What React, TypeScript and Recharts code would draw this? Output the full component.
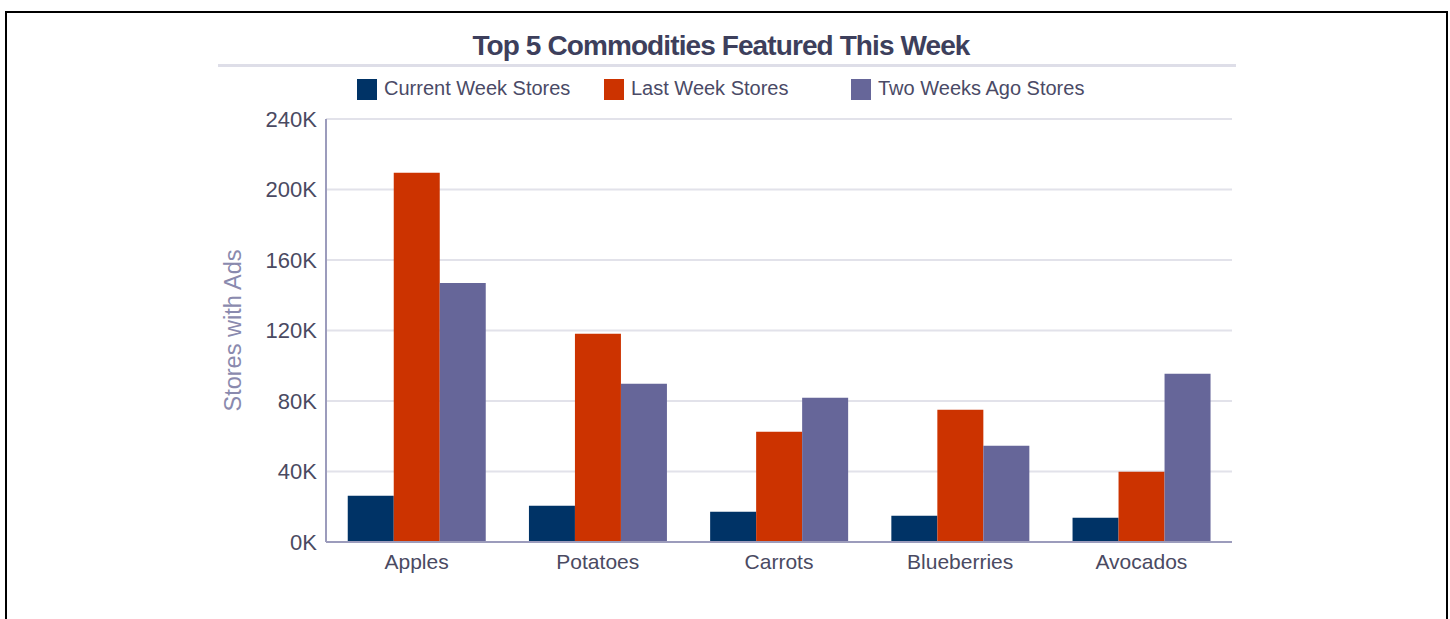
import { BarChart, Bar, XAxis, YAxis, CartesianGrid, Legend, Label } from 'recharts'

// data
const commodities = ['Apples', 'Potatoes', 'Carrots', 'Blueberries', 'Avocados']
const currentWeek = [26300, 20600, 17200, 14900, 13800]
const lastWeek = [209500, 118200, 62600, 75100, 39900]
const twoWeeksAgo = [147000, 89800, 81900, 54600, 95500]
const yTicks = [0, 40000, 80000, 120000, 160000, 200000, 240000]

const series = [
  { key: 'current', name: 'Current Week Stores', color: '#003366' },
  { key: 'last', name: 'Last Week Stores', color: '#cc3300' },
  { key: 'two', name: 'Two Weeks Ago Stores', color: '#666699' },
]

const data = commodities.map((c, i) => ({
  name: c,
  current: currentWeek[i],
  last: lastWeek[i],
  two: twoWeeksAgo[i],
}))

const FONT = '"Liberation Sans", Arial, sans-serif'

const renderLegend = (props: any) => {
  const items = props.payload && props.payload.length ? props.payload : series.map((s) => ({ value: s.name, color: s.color }))
  return (
    <div style={{ display: 'flex', fontFamily: FONT }}>
      {items.map((it: any) => (
        <div key={it.value} style={{ width: 247, display: 'flex', alignItems: 'flex-start' }}>
          <div style={{ width: 20, height: 21, marginTop: 2, background: it.color }} />
          <span style={{ marginLeft: 7, fontSize: 20, lineHeight: '22px', color: '#4a4a66', whiteSpace: 'nowrap' }}>
            {it.value}
          </span>
        </div>
      ))}
    </div>
  )
}

export default function App() {
  return (
    <div style={{ position: 'absolute', left: 0, top: 0, width: 1450, height: 619, overflow: 'hidden', background: '#fff', fontFamily: FONT }}>
      {/* outer frame */}
      <div style={{ position: 'absolute', left: 5, top: 11, width: 1443, height: 700, border: '2px solid #000', boxSizing: 'border-box' }} />

      {/* title + underline */}
      <div
        style={{
          position: 'absolute',
          left: 421,
          top: 30,
          width: 600,
          textAlign: 'center',
          fontSize: 28,
          fontWeight: 'bold',
          lineHeight: '32px',
          letterSpacing: -0.9,
          color: '#3d3f5c',
          whiteSpace: 'nowrap',
        }}
      >
        Top 5 Commodities Featured This Week
      </div>
      <div style={{ position: 'absolute', left: 218, top: 64, width: 1018, height: 3, background: '#dedee8' }} />

      <div style={{ position: 'absolute', left: 0, top: 0 }}>
        <BarChart
          width={1450}
          height={619}
          data={data}
          margin={{ top: 119, right: 218, bottom: 27, left: 226 }}
          barCategoryGap="12%"
          barGap={0}
        >
          <CartesianGrid vertical={false} stroke="#e2e2ea" strokeWidth={2} />
          <XAxis
            dataKey="name"
            height={50}
            tickLine={false}
            tickSize={6}
            tickMargin={6}
            axisLine={{ stroke: '#9c9cbc', strokeWidth: 2 }}
            tick={{ fontSize: 21, fill: '#4a4a62' }}
          />
          <YAxis
            width={100}
            domain={[0, 240000]}
            ticks={yTicks}
            interval={0}
            tickLine={false}
            tickSize={6}
            tickMargin={3}
            axisLine={{ stroke: '#9c9cbc', strokeWidth: 2 }}
            tick={{ fontSize: 22, fill: '#4a4a62' }}
            tickFormatter={(v: number) => `${v / 1000}K`}
          >
            <Label
              value="Stores with Ads"
              angle={-90}
              position="insideLeft"
              offset={7}
              style={{ textAnchor: 'middle', fill: '#8a8aae', fontSize: 23.5 }}
            />
          </YAxis>
          <Legend
            layout="horizontal"
            verticalAlign="middle"
            align="center"
            wrapperStyle={{ top: 77, left: 357, width: 760, height: 24 }}
            content={renderLegend}
          />
          {series.map((s) => (
            <Bar key={s.key} dataKey={s.key} name={s.name} fill={s.color} isAnimationActive={false} />
          ))}
        </BarChart>
      </div>
    </div>
  )
}
